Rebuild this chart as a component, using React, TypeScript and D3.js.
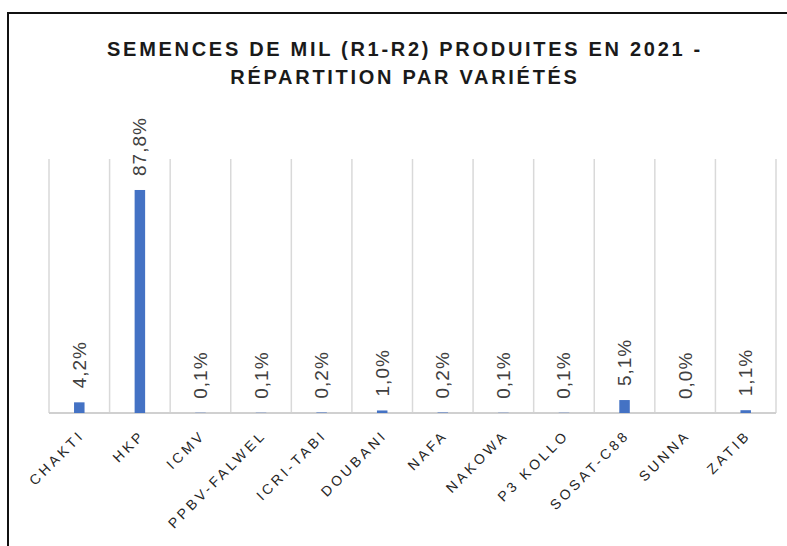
import { useEffect, useRef } from "react";
import * as d3 from "d3";

const varietes = [
  "CHAKTI",
  "HKP",
  "ICMV",
  "PPBV-FALWEL",
  "ICRI-TABI",
  "DOUBANI",
  "NAFA",
  "NAKOWA",
  "P3 KOLLO",
  "SOSAT-C88",
  "SUNNA",
  "ZATIB",
];
const parts = [4.2, 87.8, 0.1, 0.1, 0.2, 1.0, 0.2, 0.1, 0.1, 5.1, 0.0, 1.1];
const titre = [
  "SEMENCES DE MIL (R1-R2) PRODUITES EN 2021 -",
  "RÉPARTITION PAR VARIÉTÉS",
];

const App = () => {
  const svgRef = useRef<SVGSVGElement | null>(null);

  useEffect(() => {
    const width = 787;
    const height = 546;
    const margin = { top: 159, right: 11, bottom: 133, left: 49 };

    const svg = d3.select(svgRef.current);
    svg.selectAll("*").remove();

    // cadre du graphique (coupé à droite et en bas)
    svg
      .append("rect")
      .attr("x", 8)
      .attr("y", 13)
      .attr("width", 820)
      .attr("height", 600)
      .attr("fill", "#fff")
      .attr("stroke", "#111")
      .attr("stroke-width", 2);

    const x = d3
      .scaleBand()
      .domain(varietes)
      .range([margin.left, width - margin.right])
      .paddingInner(0)
      .paddingOuter(0);

    const y = d3
      .scaleLinear()
      .domain([0, 100])
      .range([height - margin.bottom, margin.top]);

    const g = svg.append("g");

    // lignes verticales entre catégories
    const bords = varietes.map((v) => x(v) as number).concat([x.range()[1]]);
    g.selectAll("line.grid")
      .data(bords)
      .join("line")
      .attr("class", "grid")
      .attr("x1", (d) => d)
      .attr("x2", (d) => d)
      .attr("y1", y(100))
      .attr("y2", y(0))
      .attr("stroke", "#d9d9d9")
      .attr("stroke-width", 1.5);

    g.append("line")
      .attr("x1", x.range()[0])
      .attr("x2", x.range()[1])
      .attr("y1", y(0))
      .attr("y2", y(0))
      .attr("stroke", "#d0d0d0")
      .attr("stroke-width", 2);

    const barW = 10.5;
    g.selectAll("rect.bar")
      .data(parts)
      .join("rect")
      .attr("class", "bar")
      .attr("x", (_, i) => (x(varietes[i]) as number) + x.bandwidth() / 2 - barW / 2)
      .attr("y", (d) => y(d))
      .attr("width", barW)
      .attr("height", (d) => y(0) - y(d))
      .attr("fill", "#4472c4");

    // étiquettes de valeurs
    g.selectAll("text.val")
      .data(parts)
      .join("text")
      .attr("class", "val")
      .attr(
        "transform",
        (d, i) =>
          `translate(${(x(varietes[i]) as number) + x.bandwidth() / 2},${y(d) - 14}) rotate(-90)`
      )
      .attr("dominant-baseline", "central")
      .attr("font-family", "Liberation Sans, Arial, sans-serif")
      .attr("font-size", 19)
      .attr("letter-spacing", 1)
      .attr("fill", "#404040")
      .text((d) => d.toFixed(1).replace(".", ",") + "%");

    // étiquettes de catégories
    g.selectAll("text.cat")
      .data(varietes)
      .join("text")
      .attr("class", "cat")
      .attr(
        "transform",
        (d) => `translate(${(x(d) as number) + x.bandwidth() / 2 + 6},${y(0) + 23}) rotate(-45)`
      )
      .attr("text-anchor", "end")
      .attr("font-family", "Liberation Sans, Arial, sans-serif")
      .attr("font-size", 14)
      .attr("letter-spacing", 3.3)
      .attr("fill", "#262626")
      .text((d) => d);

    // titre
    svg
      .append("g")
      .selectAll("text")
      .data(titre)
      .join("text")
      .attr("x", 405)
      .attr("y", (_, i) => 56 + i * 27.5)
      .attr("text-anchor", "middle")
      .attr("font-family", "Liberation Sans, Arial, sans-serif")
      .attr("font-weight", "bold")
      .attr("font-size", 20)
      .attr("letter-spacing", 2.7)
      .attr("fill", "#1a1a1a")
      .text((d) => d);
  }, []);

  return (
    <svg
      ref={svgRef}
      width={787}
      height={546}
      viewBox="0 0 787 546"
      style={{ position: "absolute", left: 0, top: 0, display: "block" }}
    />
  );
};

export default App;
